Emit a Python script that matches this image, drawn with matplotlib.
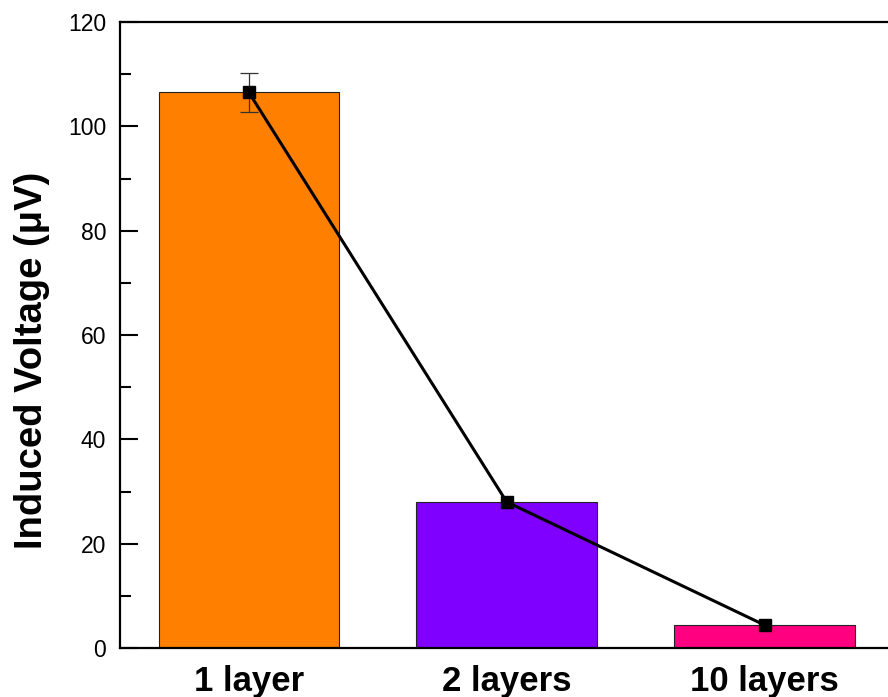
import numpy as np
import matplotlib.pyplot as plt
from matplotlib.ticker import MultipleLocator

plt.rcParams['font.family'] = ['Liberation Sans', 'DejaVu Sans']

# induced voltage per sample
samples = ['1 layer', '2 layers', '10 layers']
voltage = [106.5, 28.0, 4.4]
voltage_err = [3.7, 0, 0]
bar_colors = ['#FF8000', '#8000FF', '#FF0080']

x = np.arange(len(samples))

fig = plt.figure(figsize=(8.88, 6.97), dpi=100)
ax = fig.add_axes([0.1351, 0.0703, 0.871, 0.8981])

ax.bar(x, voltage, width=0.70, color=bar_colors, edgecolor='#222222', linewidth=0.8, zorder=2)
ax.errorbar(x[0], voltage[0], yerr=voltage_err[0], fmt='none', ecolor='#333333',
            elinewidth=0.9, capsize=6.5, capthick=0.9, zorder=3)
ax.plot(x, voltage, color='black', linewidth=2.2, marker='s', markersize=9,
        markerfacecolor='black', zorder=4)

ax.set_xlim(-0.5, 2.5)
ax.set_ylim(0, 120)
ax.yaxis.set_major_locator(MultipleLocator(20))
ax.yaxis.set_minor_locator(MultipleLocator(10))
ax.set_xticks(x)
ax.set_xticklabels(samples, fontsize=25, fontweight='bold')
ax.tick_params(axis='x', length=0, pad=12)
ax.tick_params(axis='y', which='major', direction='in', length=13, width=1.5,
               labelsize=16.5, pad=10)
ax.tick_params(axis='y', which='minor', direction='in', length=8, width=1.5)

for side in ax.spines.values():
    side.set_linewidth(1.6)

ax.set_ylabel('Induced Voltage (μV)', fontsize=27.5, fontweight='bold', labelpad=13, y=0.46)

fig.savefig('out.png', dpi=100)
